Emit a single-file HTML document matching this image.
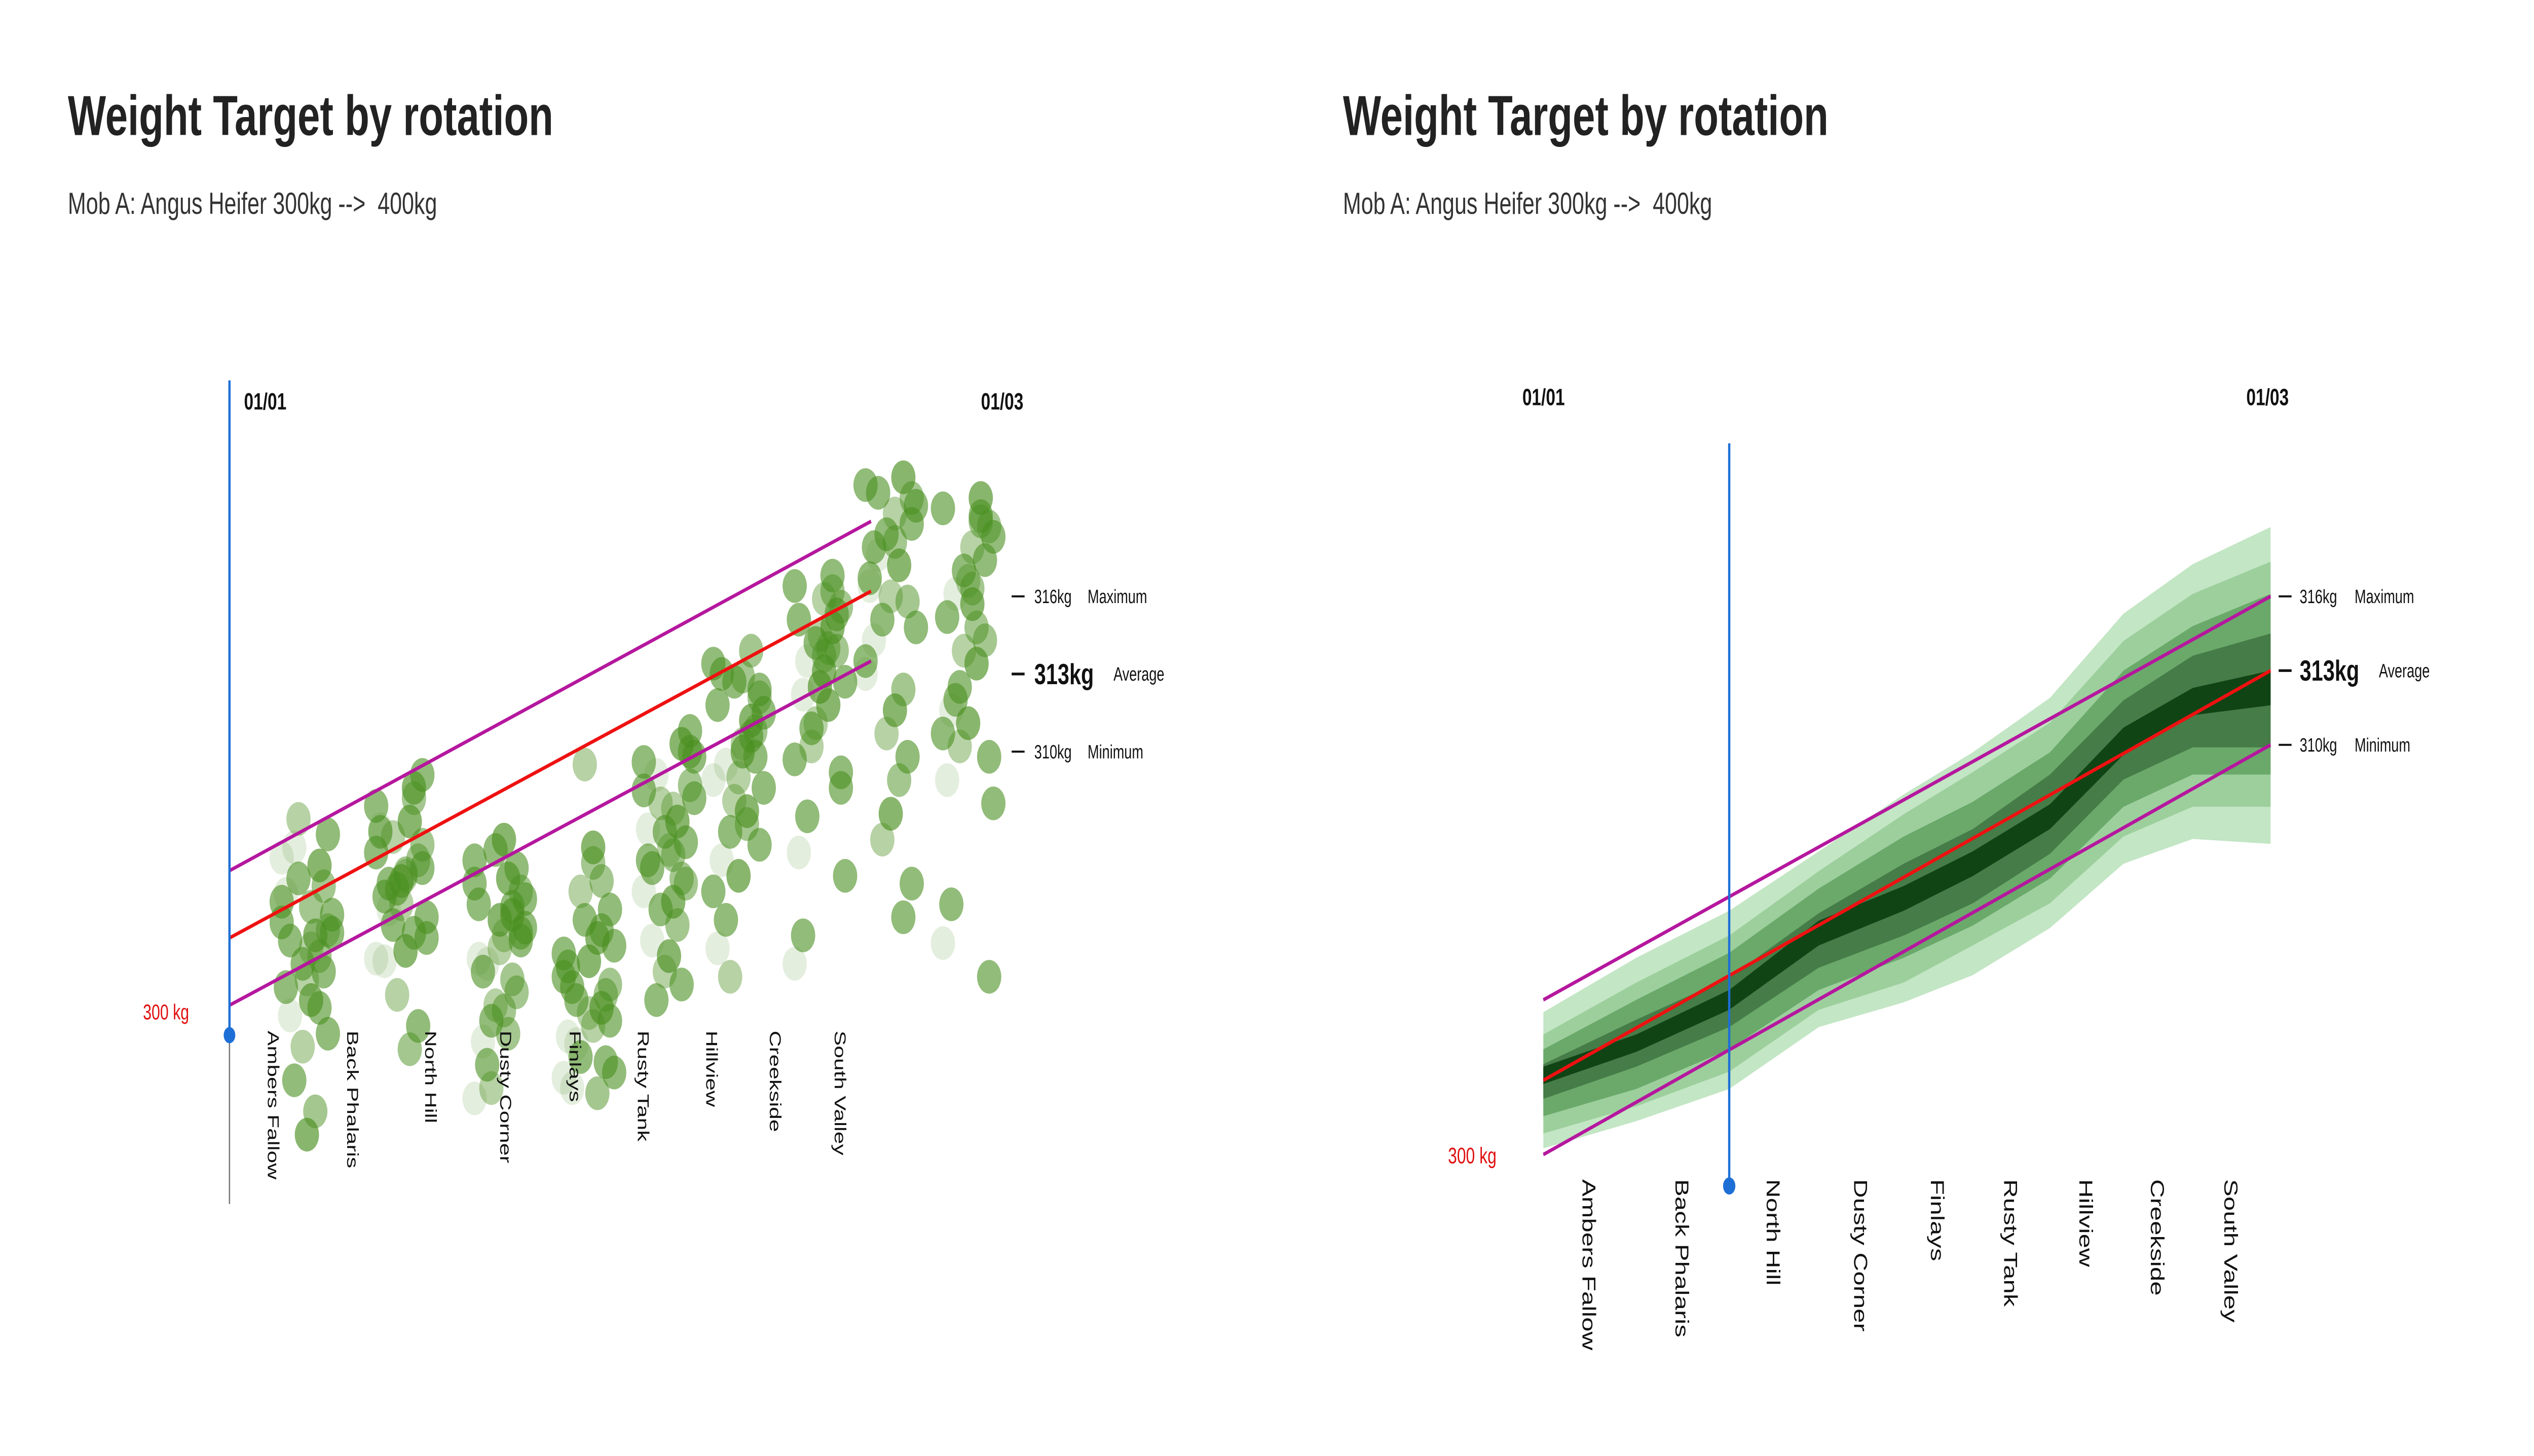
<!DOCTYPE html>
<html><head><meta charset="utf-8"><style>
html,body{margin:0;padding:0;background:#fff;overflow:hidden;width:100%;height:100%;}
svg{display:block;font-family:"Liberation Sans",sans-serif;width:100vw;height:100vh;}
</style></head><body>
<svg id="root" viewBox="0 0 1568 647" preserveAspectRatio="none" xmlns="http://www.w3.org/2000/svg">
<defs>
<linearGradient id="fadeH" x1="0" x2="1" y1="0" y2="0"><stop offset="0" stop-color="#222"/><stop offset="0.75" stop-color="#222"/><stop offset="1" stop-color="#222" stop-opacity="0"/></linearGradient>
<linearGradient id="fadeH2" x1="0" x2="1" y1="0" y2="0"><stop offset="0" stop-color="#222"/><stop offset="0.8" stop-color="#333"/><stop offset="1" stop-color="#999" stop-opacity="0"/></linearGradient>
<linearGradient id="fadeV" x1="0" x2="0" y1="0" y2="1"><stop offset="0" stop-color="#333" stop-opacity="0"/><stop offset="0.08" stop-color="#222"/><stop offset="0.85" stop-color="#333"/><stop offset="1" stop-color="#999" stop-opacity="0"/></linearGradient>
<linearGradient id="fadeG" x1="0" x2="0" y1="0" y2="1"><stop offset="0" stop-color="#777" stop-opacity="0"/><stop offset="0.1" stop-color="#777"/><stop offset="0.85" stop-color="#777"/><stop offset="1" stop-color="#777" stop-opacity="0"/></linearGradient>
</defs>
<g>
<text x="42" y="60" font-size="25" font-weight="bold" fill="#222">Weight Target by rotation</text>
<text x="42" y="95" font-size="13.5" fill="#333" xml:space="preserve">Mob A: Angus Heifer 300kg -->  400kg</text>
<g id="leftChart"></g>
</g>
<g>
<text x="831" y="60" font-size="25" font-weight="bold" fill="#222">Weight Target by rotation</text>
<text x="831" y="95" font-size="13.5" fill="#333" xml:space="preserve">Mob A: Angus Heifer 300kg -->  400kg</text>
<g id="rightChart"></g>
</g>
</svg>
<script>
// ---------- data ----------
const rotations = ["Ambers Fallow","Back Phalaris","North Hill","Dusty Corner","Finlays","Rusty Tank","Hillview","Creekside","South Valley"];
const leftBoundDays = [0,6.1,12.1,18.0,23.5,28.6,33.9,39.0,43.6,48.9];
const rightBoundDays = [0,7.54,15.08,22.35,29.24,34.84,41.1,47.07,52.68,59];
const clusterDays = [5.9,13.1,20.6,27.4,33.5,38.8,45.0,50.4,56.3];
const clusterWeights = [
[304.2,303.1,305.6,302.4,301.8,306.3,300.9,303.7,304.8,302.9,301.2,305.1,299.8,303.4,306.8,302.1,300.4,298.6,297.3,304.5,303.0,301.5,296.1,295.2,307.4,302.7,305.9,299.1,300.1,304.0],
[307.9,306.4,308.6,305.2,304.7,303.9,306.9,302.8,305.8,307.3,304.1,303.3,301.9,306.1,305.5,308.2,302.3,300.6,304.9,307.0,303.6,299.4,298.5,305.0,306.7,304.4,302.0,309.1,303.0,305.3],
[305.8,304.6,303.7,302.9,306.2,301.8,304.1,303.2,300.7,305.1,302.4,299.6,298.8,304.9,303.0,301.2,306.6,300.2,297.9,302.0,304.3,305.5,299.1,303.5,297.0,301.5,296.6,302.7,304.0,300.0],
[302.2,301.0,300.1,299.4,303.5,298.7,301.7,297.6,300.6,302.8,299.9,298.2,297.0,301.3,303.9,305.0,306.3,309.5,300.4,299.0,302.5,298.0,296.8,301.9,304.6,300.9,297.4,299.6,303.1,305.7],
[309.6,308.7,310.3,307.8,306.9,309.1,305.8,308.2,304.9,307.3,306.2,303.9,302.7,308.5,310.8,305.1,304.2,301.5,300.4,307.0,309.8,306.5,303.3,302.1,308.0,305.5,304.6,310.0,301.0,306.0],
[313.4,312.1,311.2,310.3,312.7,309.5,311.8,308.6,310.8,307.7,309.0,306.9,305.8,304.6,312.4,313.9,310.0,308.1,303.5,302.4,311.5,309.8,307.2,305.2,301.3,313.0,308.9,306.4,310.6,312.9],
[316.4,315.6,314.8,315.9,314.2,313.5,315.1,312.7,313.9,311.8,314.5,310.9,312.2,309.7,308.6,316.2,313.1,311.1,307.5,306.1,305.2,315.3,314.0,312.5,310.2,302.9,301.8,309.2,316.8,313.7],
[320.3,319.8,320.6,319.2,318.4,317.6,316.7,319.5,315.8,317.2,316.0,315.1,314.3,313.5,318.8,312.4,311.6,310.7,320.0,316.4,314.8,309.8,308.9,307.6,306.6,317.9,313.0,304.9,303.6,318.1],
[319.4,318.7,319.8,317.9,317.0,316.1,315.2,318.3,314.3,313.4,316.6,312.5,311.6,310.7,309.8,318.9,315.7,313.9,312.0,308.9,308.0,317.4,314.8,311.1,310.2,304.1,302.6,301.3,319.1,316.3]
];
const leftTarget = {maxStart:305.4,maxEnd:318.9,avgStart:302.8,avgEnd:316.2,minStart:300.2,minEnd:313.5};
const rightTarget = {maxStart:299.7,maxEnd:316,avgStart:296.45,avgEnd:313,minStart:293.45,minEnd:310};
const band1Top = [299.2,301.4,303.3,305.7,308.0,309.7,311.9,315.3,317.3,318.8];
const band2Top = [298.3,300.4,302.3,304.9,307.2,308.9,310.9,314.2,316.1,317.4];
const band3Top = [297.7,299.7,301.6,304.2,306.3,307.7,309.7,313.0,314.8,316.1];
const band4Top = [297.1,298.9,300.6,303.2,305.2,306.6,308.8,311.8,313.6,314.5];
const band5Top = [297.0,298.3,300.1,302.9,304.3,305.7,307.6,310.7,312.3,313.0];
const band5Bot = [296.3,297.6,299.3,301.9,303.3,304.7,306.6,309.6,311.2,311.6];
const band4Bot = [295.7,297.0,298.6,301.0,302.3,303.6,305.6,308.6,309.9,309.9];
const band3Bot = [295.0,296.1,297.7,300.1,301.4,302.7,304.6,307.5,308.8,308.8];
const band2Bot = [294.3,295.4,296.8,299.3,300.4,301.9,303.6,306.3,307.5,307.5];
const band1Bot = [293.7,294.8,296.1,298.6,299.6,300.7,302.6,305.2,306.2,306.0];
const tickValues = [316,313,310];
const tickNames = ["Maximum","Average","Minimum"];
const todayDayLeft = 0, todayDayRight = 15.08;
const totalDays = 59;

const NS="http://www.w3.org/2000/svg";
function mk(parent,tag,attrs,text){const e=document.createElementNS(NS,tag);for(const k in attrs)e.setAttribute(k,attrs[k]);if(text!==undefined)e.textContent=text;parent.appendChild(e);return e;}

// ---------- left chart ----------
const L=document.getElementById('leftChart');
const xL=d=>142+d/totalDays*479;
const yL=v=>299.5-(v-313)*11.5;
for(let i=1;i<leftBoundDays.length-1;i++){
  const g=mk(L,'line',{x1:xL(leftBoundDays[i]),x2:xL(leftBoundDays[i]),y1:185,y2:505,stroke:"url(#fadeG)","stroke-width":0.45});
  
  
}
clusterWeights.forEach((arr,c)=>{
  const cg=mk(L,'g',{});
  
  
  arr.forEach((w,i)=>{
    const jit=(((i*37)%13)-6)*2.6;
    const op=[0.6,0.5,0.65,0.4,0.6,0.15,0.6][i%7];
    const d=mk(cg,'circle',{cx:xL(clusterDays[c])+jit,cy:yL(w),r:7.5,fill:"#4a8f1f","fill-opacity":op});
    
    
  });
});
[["max","#b5179e"],["avg","#ee1111"],["min","#b5179e"]].forEach(([k,c])=>{
  const ln=mk(L,'line',{x1:xL(0),y1:yL(leftTarget[k+"Start"]),x2:xL(leftBoundDays[leftBoundDays.length-1]),y2:yL(leftTarget[k+"End"]),stroke:c,"stroke-width":1.6});
  
  
});
rotations.forEach((r,i)=>{
  const cx=(xL(leftBoundDays[i])+xL(leftBoundDays[i+1]))/2;
  const t=mk(L,'text',{x:cx-1,y:458,"font-size":10,fill:"#111",transform:`rotate(90 ${cx-1} 458)`},r);
  
  
});
let e;
e=mk(L,'line',{x1:143,x2:655,y1:518,y2:518,stroke:"url(#fadeH)","stroke-width":1.6});
e=mk(L,'line',{x1:621,x2:621,y1:190,y2:615,stroke:"url(#fadeV)","stroke-width":1});
e=mk(L,'line',{x1:142,x2:142,y1:460,y2:535,stroke:"#777","stroke-width":0.8});
e=mk(L,'line',{x1:xL(todayDayLeft),x2:xL(todayDayLeft),y1:169,y2:460,stroke:"#1d6fd6","stroke-width":1.4});
e=mk(L,'circle',{cx:xL(todayDayLeft),cy:460,r:3.6,fill:"#1d6fd6"});
e=mk(L,'text',{x:151,y:182,"font-size":10.5,"font-weight":"bold",fill:"#111"},"01/01");
e=mk(L,'text',{x:607,y:182,"font-size":10.5,"font-weight":"bold",fill:"#111"},"01/03");
e=mk(L,'text',{x:117,y:453,"font-size":9.5,fill:"#e01010","text-anchor":"end"},"300 kg");
tickValues.forEach((v,i)=>{
  const y=yL(v);const big=i===1;
  const tk=mk(L,'line',{x1:626,x2:634,y1:y,y2:y,stroke:"#111","stroke-width":big?1.2:0.9});
  
  const t=mk(L,'text',{x:640,y:y+(big?4.5:3),"font-size":big?13:8.5,"font-weight":big?"bold":"normal",fill:"#111"},v+"kg");
  
  const n=mk(L,'text',{x:big?689:673,y:y+3,"font-size":8.5,fill:"#111"},tickNames[i]);
  
});

// ---------- right chart ----------
const R=document.getElementById('rightChart');
const xR=d=>955+d/totalDays*450;
const yR=v=>298-(v-313)*11;
const bands=[[band1Top,band1Bot,"#c3e6c4"],[band2Top,band2Bot,"#9dcf9d"],[band3Top,band3Bot,"#6aa96a"],[band4Top,band4Bot,"#467c47"],[band5Top,band5Bot,"#104415"]];
bands.forEach(([top,bot,col])=>{
  let d="";
  top.forEach((v,i)=>{d+=(i?"L":"M")+xR(rightBoundDays[i])+","+yR(v)+" ";});
  for(let i=bot.length-1;i>=0;i--)d+="L"+xR(rightBoundDays[i])+","+yR(bot[i])+" ";
  const p=mk(R,'path',{d:d+"Z",fill:col});
  
  
});
for(let i=1;i<rightBoundDays.length-1;i++){
  const g=mk(R,'line',{x1:xR(rightBoundDays[i]),x2:xR(rightBoundDays[i]),y1:195,y2:612,stroke:"url(#fadeG)","stroke-width":0.45});
  
  
}
[["max","#b5179e"],["avg","#ee1111"],["min","#b5179e"]].forEach(([k,c])=>{
  const ln=mk(R,'line',{x1:xR(0),y1:yR(rightTarget[k+"Start"]),x2:xR(totalDays),y2:yR(rightTarget[k+"End"]),stroke:c,"stroke-width":1.6});
  
  
});
rotations.forEach((r,i)=>{
  const cx=(xR(rightBoundDays[i])+xR(rightBoundDays[i+1]))/2;
  const t=mk(R,'text',{x:cx-4.5,y:524,"font-size":11.5,fill:"#111",transform:`rotate(90 ${cx-4.5} 524)`},r);
  
  
});
e=mk(R,'line',{x1:918,x2:1440,y1:513,y2:513,stroke:"url(#fadeH2)","stroke-width":1.6});
e=mk(R,'line',{x1:955,x2:955,y1:180,y2:615,stroke:"url(#fadeV)","stroke-width":1.2});
e=mk(R,'line',{x1:1405,x2:1405,y1:180,y2:615,stroke:"url(#fadeV)","stroke-width":1.2});
e=mk(R,'line',{x1:xR(todayDayRight),x2:xR(todayDayRight),y1:197,y2:527,stroke:"#1d6fd6","stroke-width":1.4});
e=mk(R,'circle',{cx:xR(todayDayRight),cy:527,r:3.8,fill:"#1d6fd6"});
e=mk(R,'text',{x:942,y:180,"font-size":10.5,"font-weight":"bold",fill:"#111"},"01/01");
e=mk(R,'text',{x:1390,y:180,"font-size":10.5,"font-weight":"bold",fill:"#111"},"01/03");
e=mk(R,'text',{x:926,y:517,"font-size":10,fill:"#e01010","text-anchor":"end"},"300 kg");
tickValues.forEach((v,i)=>{
  const y=yR(v);const big=i===1;
  const tk=mk(R,'line',{x1:1410,x2:1418,y1:y,y2:y,stroke:"#111","stroke-width":big?1.2:0.9});
  
  const t=mk(R,'text',{x:1423,y:y+(big?4.5:3),"font-size":big?13:8.5,"font-weight":big?"bold":"normal",fill:"#111"},v+"kg");
  
  const n=mk(R,'text',{x:big?1472:1457,y:y+3,"font-size":8.5,fill:"#111"},tickNames[i]);
  
});
</script>
</body></html>
